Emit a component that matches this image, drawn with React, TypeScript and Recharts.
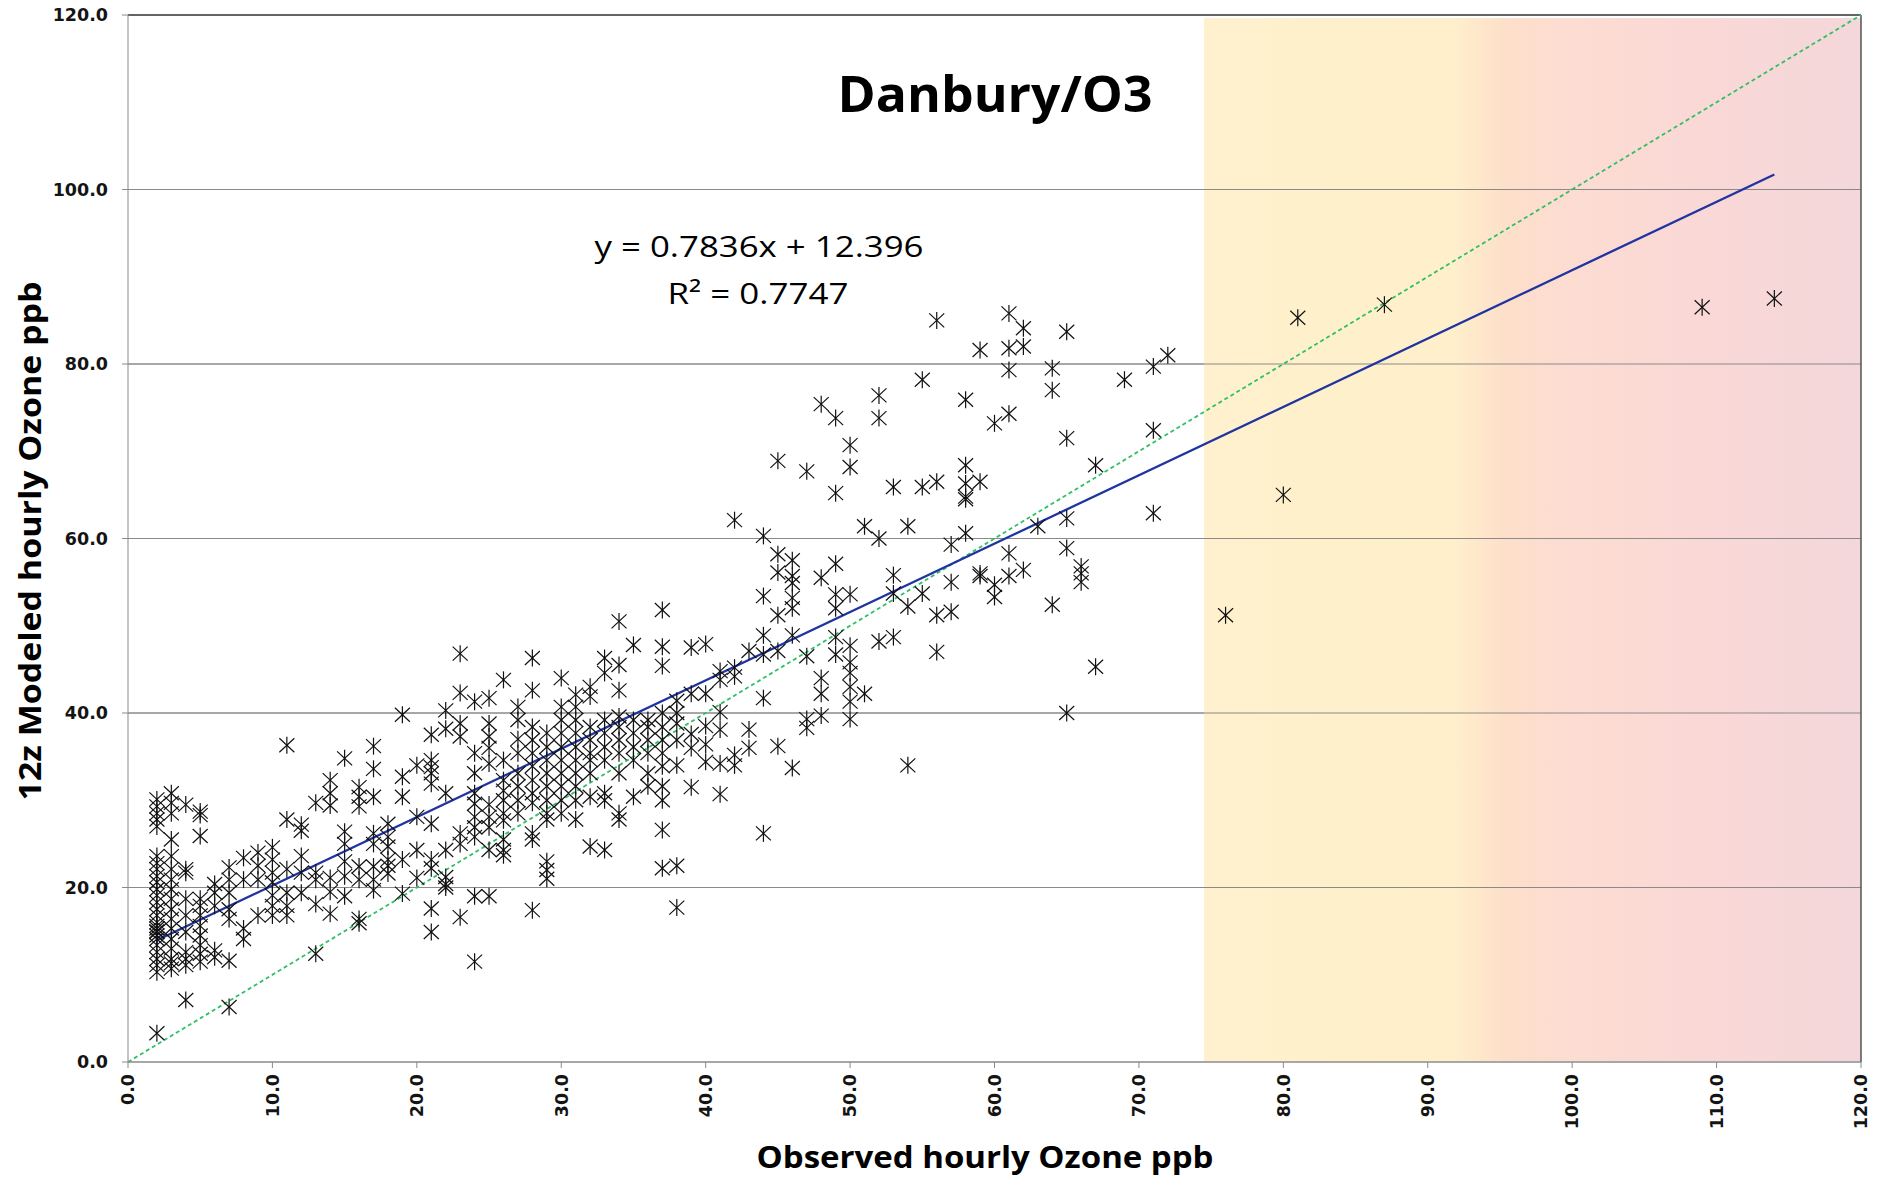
import React from 'react';
import {
  ScatterChart,
  Scatter,
  XAxis,
  YAxis,
  CartesianGrid,
  ReferenceArea,
  ReferenceLine,
  Customized,
} from 'recharts';

// ---------- tick values ----------
const xTicks = [0, 10, 20, 30, 40, 50, 60, 70, 80, 90, 100, 110, 120];
const yTicks = [0, 20, 40, 60, 80, 100, 120];
const gridYs = [20, 40, 60, 80, 100];

// ---------- trendline (from the chart's equation) ----------
const slope = 0.7836;
const intercept = 12.396;
const trendStart = 2;
const trendEnd = 114;

// ---------- shaded exceedance band ----------
const bandStart = 74.5;
const bandEnd = 120;

// ---------- texts ----------
const chartTitle = 'Danbury/O3';
const equationText = 'y = 0.7836x + 12.396';
const r2Text = 'R² = 0.7747';
const xTitle = 'Observed hourly Ozone ppb';
const yTitle = '12z Modeled  hourly Ozone ppb';

// ---------- data: [observed ppb, modeled ppb values] ----------
const lowRange: [number, number[]][] = [
  [2, [30.1, 29.3, 28.5, 27.8, 27.0, 23.6, 22.8, 22.1, 21.3, 20.6, 19.8, 19.1, 18.3, 17.5, 16.8, 16.0, 15.6, 15.3, 15.0, 14.9, 14.5, 14.1, 13.4, 12.6, 11.8, 11.1, 10.3, 3.3]],
  [3, [30.8, 29.7, 28.5, 25.5, 23.6, 22.1, 20.9, 19.8, 18.7, 17.5, 16.4, 15.3, 14.1, 13.0, 11.8, 11.3, 10.7]],
  [4, [29.5, 22.1, 21.7, 18.7, 16.8, 14.9, 12.6, 11.8, 11.1, 7.1]],
  [5, [28.7, 28.3, 25.9, 18.7, 17.9, 16.8, 15.6, 14.5, 13.4, 12.4, 11.5]],
  [6, [20.4, 19.4, 17.9, 12.8, 12.0]],
  [7, [22.3, 20.9, 19.4, 17.5, 16.4, 11.6, 6.3]],
  [8, [23.4, 20.9, 15.3, 14.1]],
  [9, [24.0, 22.5, 20.9, 16.8]],
  [10, [24.6, 23.2, 21.7, 20.6, 19.1, 17.9, 16.8]],
  [11, [36.3, 27.8, 22.1, 19.4, 17.9, 16.8]],
  [12, [27.2, 26.5, 23.6, 21.7, 19.4]],
  [13, [29.7, 21.7, 20.9, 18.1, 12.4]],
];

const midRange: [number, number[]][] = [
  [14, [32.3, 30.8, 29.4, 21.1, 19.5, 17.0]],
  [15, [34.8, 26.4, 25.0, 23.0, 21.3, 19.0]],
  [16, [31.5, 30.4, 29.3, 22.4, 20.9, 16.4, 15.9]],
  [17, [36.2, 33.6, 30.4, 26.2, 25.0, 22.4, 20.9, 19.7]],
  [18, [27.3, 25.8, 24.7, 23.2, 22.5, 21.6]],
  [19, [39.8, 32.7, 30.4, 23.2, 19.3]],
  [20, [34.0, 28.1, 24.3, 21.1]],
  [21, [37.5, 34.6, 33.8, 33.1, 31.9, 27.3, 23.2, 22.2, 17.6, 14.9]],
  [22, [40.3, 38.2, 30.8, 24.3, 21.2, 20.4, 20.0]],
  [23, [46.8, 42.3, 38.8, 37.3, 26.2, 25.0, 16.6]],
  [24, [41.3, 35.4, 33.1, 30.8, 29.6, 28.1, 26.9, 25.8, 19.0, 11.5]],
  [25, [41.7, 38.8, 37.3, 36.0, 34.2, 29.5, 28.1, 26.9, 24.3, 19.0]],
  [26, [43.8, 34.6, 32.3, 31.1, 30.0, 28.5, 27.7, 25.5, 24.3, 23.7]],
];

const denseRange: [number, number[]][] = [
  [27, [40.7, 39.2, 37.0, 35.4, 33.1, 31.6, 30.0, 28.5]],
  [28, [46.3, 42.6, 38.4, 36.9, 35.4, 33.9, 32.3, 30.8, 29.7, 26.2, 25.5, 17.4]],
  [29, [37.7, 36.1, 34.6, 33.1, 31.6, 30.0, 28.5, 27.8, 23.0, 22.0, 21.0]],
  [30, [44.0, 40.7, 39.2, 37.7, 36.1, 34.6, 33.1, 31.6, 30.0, 28.5]],
  [31, [42.1, 40.7, 39.2, 37.7, 36.1, 34.6, 33.1, 31.6, 30.0, 27.8]],
  [32, [43.0, 41.9, 38.4, 36.9, 35.4, 34.6, 33.1, 30.4, 24.7]],
  [33, [46.3, 44.6, 39.2, 37.7, 36.1, 34.6, 30.8, 30.0, 24.3]],
  [34, [50.5, 45.5, 42.6, 39.6, 38.4, 36.9, 35.4, 33.1, 28.5, 27.8]],
  [35, [47.8, 39.2, 37.7, 36.1, 34.6, 30.4]],
  [36, [39.2, 38.4, 36.9, 35.4, 33.1, 31.6]],
  [37, [51.8, 47.6, 45.4, 40.0, 38.4, 36.9, 35.4, 33.9, 31.6, 30.0, 26.6, 22.2]],
  [38, [41.4, 40.0, 38.8, 36.9, 34.0, 22.5, 17.7]],
];

const upperRange: [number, number[]][] = [
  [39, [47.5, 42.2, 37.6, 36.0, 31.5]],
  [40, [47.9, 42.2, 38.5, 36.4, 34.4]],
  [41, [44.8, 43.8, 40.1, 38.1, 34.2, 30.7]],
  [42, [62.1, 45.2, 44.2, 35.2, 34.0]],
  [43, [47.1, 38.1, 36.0]],
  [44, [60.3, 53.4, 48.9, 46.7, 41.7, 26.2]],
  [45, [68.9, 58.2, 56.1, 51.2, 47.1, 36.2]],
  [46, [57.5, 55.7, 54.9, 53.2, 52.0, 48.9, 33.7]],
  [47, [67.7, 46.5, 39.3, 38.3]],
  [48, [75.4, 55.5, 44.0, 42.2, 39.7]],
  [49, [73.8, 65.2, 57.1, 53.6, 52.0, 48.7, 46.7]],
  [50, [70.7, 68.2, 53.6, 47.7, 45.8, 44.6, 43.0, 41.3, 39.3]],
  [51, [61.4, 42.2]],
];

const highRange: [number, number[]][] = [
  [52, [76.4, 73.8, 60.0, 48.2]],
  [53, [65.9, 55.8, 53.7, 48.7]],
  [54, [61.4, 52.2, 34.0]],
  [55, [78.2, 65.9, 53.7]],
  [56, [85.0, 66.5, 51.2, 47.0]],
  [57, [59.3, 55.0, 51.6]],
  [58, [75.9, 68.4, 66.3, 64.8, 64.5, 60.6]],
  [59, [81.6, 66.5, 56.0, 55.7]],
  [60, [73.2, 54.7, 53.3]],
  [61, [85.8, 81.8, 79.3, 74.3, 58.3, 55.7]],
  [62, [84.1, 82.0, 56.4]],
  [63, [61.4]],
  [64, [79.5, 77.0, 52.4]],
  [65, [83.7, 71.5, 62.3, 58.9, 40.0]],
  [66, [56.8, 56.0, 55.0]],
  [67, [68.4, 45.3]],
  [69, [78.2]],
  [71, [79.7, 72.4, 62.9]],
  [72, [81.0]],
];

const outlierRange: [number, number[]][] = [
  [76, [51.2]],
  [80, [65.0]],
  [81, [85.3]],
  [87, [86.8]],
  [109, [86.5]],
  [114, [87.5]],
];

const points = [...lowRange, ...midRange, ...denseRange, ...upperRange, ...highRange, ...outlierRange].flatMap(
  ([x, ys]) => ys.map((y) => ({ x, y }))
);

const fmt = (v: number) => v.toFixed(1);

const Asterisk = (props: any) => {
  const { cx, cy } = props;
  if (cx == null || cy == null || isNaN(cx) || isNaN(cy)) return null;
  return (
    <g stroke="#111" strokeWidth={1.2} fill="none">
      <line x1={cx} y1={cy - 8.5} x2={cx} y2={cy + 8.5} />
      <line x1={cx - 7.5} y1={cy - 7} x2={cx + 7.5} y2={cy + 7} />
      <line x1={cx - 7.5} y1={cy + 7} x2={cx + 7.5} y2={cy - 7} />
    </g>
  );
};

const XTick = (props: any) => {
  const { x, y, payload } = props;
  return (
    <text
      x={x}
      y={y}
      transform={`rotate(-90, ${x}, ${y})`}
      textAnchor="end"
      dy="0.36em"
      fontFamily="DejaVu Sans"
      fontWeight="bold"
      fontSize={17.5}
      fill="#141414"
    >
      {fmt(payload.value)}
    </text>
  );
};

const YTick = (props: any) => {
  const { x, y, payload } = props;
  return (
    <text
      x={x}
      y={y}
      textAnchor="end"
      dy="0.36em"
      fontFamily="DejaVu Sans"
      fontWeight="bold"
      fontSize={17.5}
      fill="#141414"
    >
      {fmt(payload.value)}
    </text>
  );
};

const BandShape = (props: any) => {
  const { x, y, width, height } = props;
  return (
    <g>
      <defs>
        <linearGradient id="aqiBand" x1="0" y1="0" x2="1" y2="0">
          <stop offset="0%" stopColor="#FFF1CD" />
          <stop offset="38%" stopColor="#FFEFCB" />
          <stop offset="46%" stopColor="#FDDFCA" />
          <stop offset="56%" stopColor="#FDDCD2" />
          <stop offset="74%" stopColor="#FAD8D6" />
          <stop offset="100%" stopColor="#F4D7DA" />
        </linearGradient>
      </defs>
      <rect x={x} y={y + 3} width={width} height={height - 4} fill="url(#aqiBand)" />
    </g>
  );
};

const Texts = () => (
  <g>
    <text x={995} y={93} textAnchor="middle" dominantBaseline="central" fontFamily="Open Sans" fontWeight="bold" fontSize={50} textLength={315} lengthAdjust="spacingAndGlyphs" fill="#000">
      {chartTitle}
    </text>
    <text x={759} y={245} textAnchor="middle" dominantBaseline="central" fontFamily="Open Sans" fontSize={30} textLength={329} lengthAdjust="spacingAndGlyphs" fill="#000">
      {equationText}
    </text>
    <text x={758} y={292} textAnchor="middle" dominantBaseline="central" fontFamily="Open Sans" fontSize={30} textLength={181} lengthAdjust="spacingAndGlyphs" fill="#000">
      {r2Text}
    </text>
    <text x={985} y={1156} textAnchor="middle" dominantBaseline="central" fontFamily="Open Sans" fontWeight="bold" fontSize={30} textLength={457} lengthAdjust="spacingAndGlyphs" fill="#000">
      {xTitle}
    </text>
    <text x={29} y={541} transform="rotate(-90, 29, 541)" textAnchor="middle" dominantBaseline="central" fontFamily="Open Sans" fontWeight="bold" fontSize={30} textLength={519} lengthAdjust="spacingAndGlyphs" fill="#000">
      {yTitle}
    </text>
  </g>
);

export default function App() {
  return (
    <div style={{ position: 'absolute', left: 0, top: 0, background: '#fff' }}>
      <ScatterChart width={1877} height={1178} margin={{ top: 15, right: 16, bottom: 0, left: 0 }}>
        <CartesianGrid vertical={false} stroke="#8a8a8a" strokeWidth={1.2} />
        <XAxis
          type="number"
          dataKey="x"
          domain={[0, 120]}
          ticks={xTicks}
          interval={0}
          allowDataOverflow
          height={116}
          stroke="#8a8a8a"
          tickSize={6}
          tickMargin={6}
          tick={<XTick />}
        />
        <YAxis
          type="number"
          dataKey="y"
          domain={[0, 120]}
          ticks={yTicks}
          interval={0}
          allowDataOverflow
          width={128}
          stroke="#8a8a8a"
          tickSize={6}
          tickMargin={14}
          tick={<YTick />}
        />
        <ReferenceArea x1={bandStart} x2={bandEnd} y1={0} y2={120} shape={<BandShape />} ifOverflow="visible" />
        {gridYs.map((g) => (
          <ReferenceLine key={g} y={g} stroke="#8a8a8a" strokeWidth={1.2} />
        ))}
        <ReferenceLine y={120} stroke="#444" strokeWidth={1.5} />
        <ReferenceLine x={120} stroke="#555" strokeWidth={1.5} />
        <ReferenceLine
          segment={[{ x: 0, y: 0 }, { x: 120, y: 120 }]}
          stroke="#2FC066"
          strokeWidth={1.8}
          strokeDasharray="4 3"
        />
        <Scatter data={points} shape={<Asterisk />} isAnimationActive={false} />
        <ReferenceLine
          segment={[
            { x: trendStart, y: intercept + slope * trendStart },
            { x: trendEnd, y: intercept + slope * trendEnd },
          ]}
          stroke="#1F34A0"
          strokeWidth={2.3}
        />
        <Customized component={<Texts />} />
      </ScatterChart>
    </div>
  );
}
